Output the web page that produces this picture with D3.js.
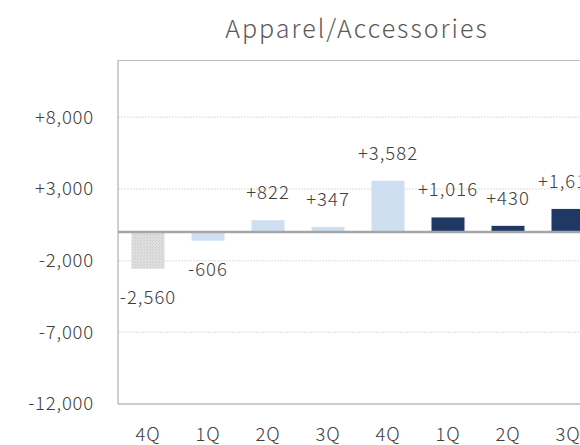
<!DOCTYPE html>
<html><head><meta charset="utf-8">
<script src="https://cdn.jsdelivr.net/npm/d3@7"></script>
<style>
html,body{margin:0;padding:0;background:#fff;overflow:hidden;}
svg{display:block;font-family:"Noto Sans CJK JP","Noto Sans",sans-serif;font-weight:300;}
</style></head>
<body>
<svg id="c" width="580" height="445"></svg>
<script>
const title = "Apparel/Accessories";
const categories = ["4Q","1Q","2Q","3Q","4Q","1Q","2Q","3Q"];
const values = [-2560, -606, 822, 347, 3582, 1016, 430, 1610];
const groups = ["prior","mid","mid","mid","mid","recent","recent","recent"];
const labels = ["-2,560","-606","+822","+347","+3,582","+1,016","+430","+1,610"];
const yTicks = [8000, 3000, -2000, -7000, -12000];
const yTickLabels = ["+8,000","+3,000","-2,000","-7,000","-12,000"];
const colors = {prior:"url(#hatch)", mid:"#cddff0", recent:"#203864"};

const svg = d3.select("#c");
const defs = svg.append("defs");
const pat = defs.append("pattern").attr("id","hatch").attr("patternUnits","userSpaceOnUse")
  .attr("width",3).attr("height",3);
pat.append("rect").attr("width",3).attr("height",3).attr("fill","#dedede");
pat.append("rect").attr("x",0).attr("y",0).attr("width",1).attr("height",1).attr("fill","#cccccc");
pat.append("rect").attr("x",2).attr("y",1).attr("width",1).attr("height",1).attr("fill","#d0d0d0");

const pL = 118, pR = 598, pT = 60, pB = 404;
const x = d3.scaleBand().domain(d3.range(categories.length)).range([pL, pR])
  .paddingInner(0.45).paddingOuter(0.225);
const y = d3.scaleLinear().domain([-12000, 12000]).range([pB, pT]);

// title
svg.append("text").attr("x", (pL+pR)/2 - 1).attr("y", 38).attr("text-anchor","middle")
  .attr("font-size", 25).attr("letter-spacing", 2).attr("fill","#595959")
  .text(title);

// gridlines
svg.append("g").selectAll("line").data(yTicks).join("line")
  .attr("x1", pL).attr("x2", pR).attr("y1", d=>y(d)).attr("y2", d=>y(d))
  .attr("stroke","#e8e8e8").attr("stroke-width",1.5).attr("stroke-dasharray","2,1");

// frame
svg.append("line").attr("x1",pL).attr("x2",pR).attr("y1",pT+0.5).attr("y2",pT+0.5).attr("stroke","#bfbfbf");
svg.append("line").attr("x1",pL).attr("x2",pR).attr("y1",pB).attr("y2",pB).attr("stroke","#bfbfbf").attr("stroke-width",1.5);
svg.append("line").attr("x1",pL).attr("x2",pL).attr("y1",pT).attr("y2",pB).attr("stroke","#bfbfbf").attr("stroke-width",1.5);

// y tick labels
svg.append("g").selectAll("text").data(yTicks).join("text")
  .attr("x", 94).attr("y", d=>y(d)).attr("dy","0.35em").attr("text-anchor","end")
  .attr("font-size",18.5).attr("letter-spacing",0.8).attr("fill","#404040")
  .text((d,i)=>yTickLabels[i]);

// bars
svg.append("g").selectAll("rect").data(values).join("rect")
  .attr("x",(d,i)=>x(i)).attr("width",x.bandwidth())
  .attr("y", d=>y(Math.max(0,d))).attr("height", d=>Math.abs(y(d)-y(0)))
  .attr("fill",(d,i)=>colors[groups[i]]);

// zero line
svg.append("line").attr("x1",pL).attr("x2",pR).attr("y1",y(0)).attr("y2",y(0))
  .attr("stroke","#a6a6a6").attr("stroke-width",2.5);

// value labels
svg.append("g").selectAll("text").data(values).join("text")
  .attr("x",(d,i)=>x(i)+x.bandwidth()/2)
  .attr("y", d=> d>=0 ? y(d)-21 : y(d)+35)
  .attr("text-anchor","middle").attr("font-size",18.5).attr("letter-spacing",1).attr("fill","#404040")
  .text((d,i)=>labels[i]);

// x labels
svg.append("g").selectAll("text").data(categories).join("text")
  .attr("x",(d,i)=>x(i)+x.bandwidth()/2).attr("y",441)
  .attr("text-anchor","middle").attr("font-size",18.5).attr("letter-spacing",0.8).attr("fill","#404040")
  .text(d=>d);
</script>
</body></html>
